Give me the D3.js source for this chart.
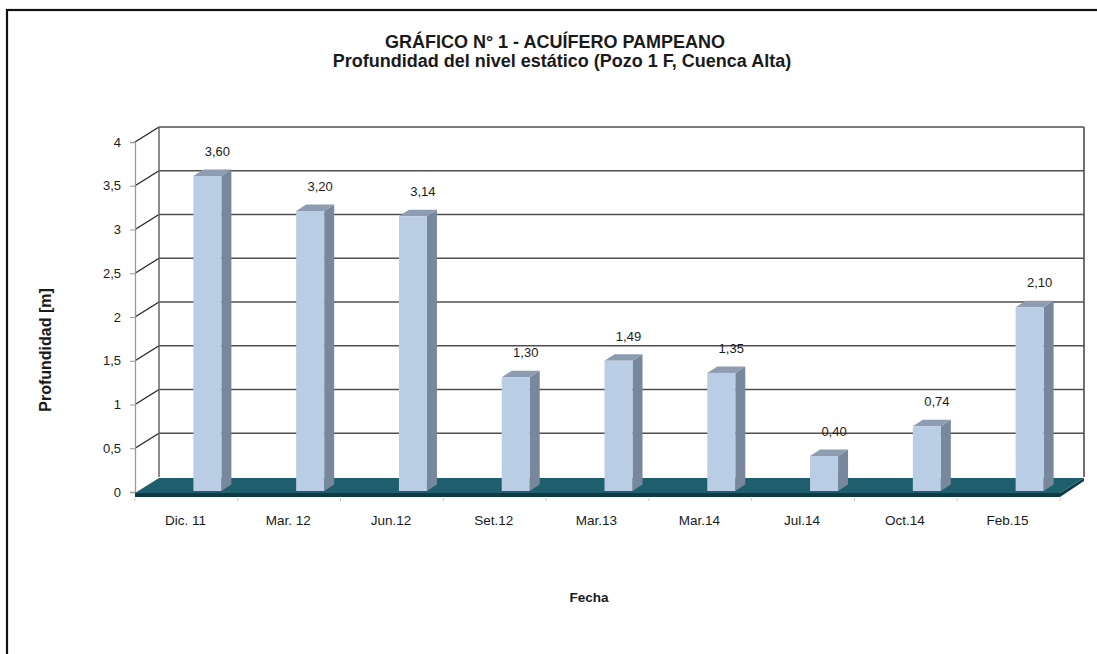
<!DOCTYPE html>
<html>
<head>
<meta charset="utf-8">
<script src="https://cdnjs.cloudflare.com/ajax/libs/d3/7.8.5/d3.min.js"></script>
<style>
  body { margin: 0; background: #fff; }
  text { font-family: Arial, "Liberation Sans", sans-serif; fill: #1a1a1a; }
</style>
</head>
<body>
<div id="chart"></div>
<script>
// data
var fechas = ["Dic. 11", "Mar. 12", "Jun.12", "Set.12", "Mar.13", "Mar.14", "Jul.14", "Oct.14", "Feb.15"];
var profundidad = [3.60, 3.20, 3.14, 1.30, 1.49, 1.35, 0.40, 0.74, 2.10];
var yTicks = [0, 0.5, 1, 1.5, 2, 2.5, 3, 3.5, 4];

var W = 1097, H = 654;

// 3d offsets (wall depth and bar depth)
var depth = {dx: 24, dy: -15};
var barDepth = {dx: 10, dy: -6.5};

var colors = {
  front: "#b9cde5",
  side: "#77879c",
  top: "#8e9cb1",
  floor: "#1f5e6d",
  floorEdge: "#0f3a44",
  grid: "#4f4f4f"
};

var fmt = function(v) { return d3.format(".2f")(v).replace(".", ","); };
var fmtTick = function(v) { return String(v).replace(".", ","); };

var svg = d3.select("#chart").append("svg")
  .attr("width", W)
  .attr("height", H);

// outer frame
svg.append("rect")
  .attr("x", 7).attr("y", 10)
  .attr("width", W).attr("height", H)
  .attr("fill", "none")
  .attr("stroke", "#111")
  .attr("stroke-width", 2.2);

var x = d3.scaleBand().domain(fechas).range([135, 1060]);
var y = d3.scaleLinear().domain([0, 4]).range([492, 142]);

// back wall gridlines
var wall = svg.append("g");
wall.selectAll(".grid")
  .data(yTicks.slice(1))
  .enter().append("line")
  .attr("x1", 135 + depth.dx).attr("x2", 1060 + depth.dx)
  .attr("y1", function(d) { return y(d) + depth.dy; })
  .attr("y2", function(d) { return y(d) + depth.dy; })
  .attr("stroke", colors.grid)
  .attr("stroke-width", 1.7);

// side wall diagonals
wall.selectAll(".diag")
  .data(yTicks.slice(1))
  .enter().append("line")
  .attr("x1", 135).attr("x2", 135 + depth.dx)
  .attr("y1", function(d) { return y(d); })
  .attr("y2", function(d) { return y(d) + depth.dy; })
  .attr("stroke", "#222")
  .attr("stroke-width", 1.3);

// wall verticals
wall.append("line")
  .attr("x1", 135 + depth.dx).attr("x2", 135 + depth.dx)
  .attr("y1", y(4) + depth.dy).attr("y2", y(0) + depth.dy)
  .attr("stroke", "#666").attr("stroke-width", 1.5);
wall.append("line")
  .attr("x1", 1060 + depth.dx).attr("x2", 1060 + depth.dx)
  .attr("y1", y(4) + depth.dy).attr("y2", y(0) + depth.dy)
  .attr("stroke", "#555").attr("stroke-width", 1.7);

// y axis (front)
var yAxis = svg.append("g")
  .attr("transform", "translate(135,0)")
  .call(d3.axisLeft(y).tickValues(yTicks).tickFormat(fmtTick).tickSize(5).tickPadding(9));
yAxis.select(".domain").attr("stroke", "#9a9a9a").attr("stroke-width", 1.3);
yAxis.selectAll(".tick line").attr("stroke", "#9a9a9a");
yAxis.selectAll("text")
  .style("font-size", "13px")
  .style("font-family", "Arial, 'Liberation Sans', sans-serif")
  .attr("fill", "#1a1a1a");

// floor
var floorPts = [
  [135, y(0) + 1], [1060, y(0) + 1],
  [1060 + depth.dx, y(0) + 1 + depth.dy], [135 + depth.dx, y(0) + 1 + depth.dy]
];
svg.append("polygon")
  .attr("points", [[135, y(0) + 1], [1060, y(0) + 1], [1060, y(0) + 5], [135, y(0) + 5]].join(" "))
  .attr("fill", colors.floorEdge);
svg.append("polygon")
  .attr("points", [[1060, y(0) + 1], [1060 + depth.dx, y(0) + 1 + depth.dy], [1060 + depth.dx, y(0) + 4 + depth.dy], [1060, y(0) + 5]].join(" "))
  .attr("fill", colors.floorEdge);
svg.append("polygon")
  .attr("points", floorPts.join(" "))
  .attr("fill", colors.floor);

// x axis labels under floor
svg.append("g")
  .attr("transform", "translate(0," + (y(0) + 5) + ")")
  .call(d3.axisBottom(x).tickSize(0).tickPadding(18))
  .call(function(g) {
    g.select(".domain").remove();
    g.selectAll("text")
      .style("font-size", "13.5px")
      .style("font-family", "Arial, 'Liberation Sans', sans-serif")
      .attr("fill", "#1a1a1a")
      .attr("dx", -1);
  });
svg.append("g").selectAll("line")
  .data(d3.range(fechas.length + 1))
  .enter().append("line")
  .attr("x1", function(i) { return 135 + i * x.step(); })
  .attr("x2", function(i) { return 135 + i * x.step(); })
  .attr("y1", y(0) + 6).attr("y2", y(0) + 9)
  .attr("stroke", "#c8c8c8");

// bars
var bw = 28;
var barLeft = function(d) { return x(d) + x.bandwidth() / 2 + 7; };
var base = y(0) - 1;

var bars = svg.append("g").selectAll(".bar")
  .data(fechas.map(function(f, i) { return {fecha: f, value: profundidad[i]}; }))
  .enter().append("g");

bars.append("polygon")
  .attr("points", function(d) {
    var L = barLeft(d.fecha), t = y(d.value) - 1;
    return [[L + bw, base], [L + bw, t], [L + bw + barDepth.dx, t + barDepth.dy], [L + bw + barDepth.dx, base + barDepth.dy]].join(" ");
  })
  .attr("fill", colors.side);

bars.append("polygon")
  .attr("points", function(d) {
    var L = barLeft(d.fecha), t = y(d.value) - 1;
    return [[L, t], [L + barDepth.dx, t + barDepth.dy], [L + bw + barDepth.dx, t + barDepth.dy], [L + bw, t]].join(" ");
  })
  .attr("fill", colors.top);

bars.append("rect")
  .attr("x", function(d) { return barLeft(d.fecha); })
  .attr("y", function(d) { return y(d.value) - 1; })
  .attr("width", bw)
  .attr("height", function(d) { return base - (y(d.value) - 1); })
  .attr("fill", colors.front);

bars.append("text")
  .attr("x", function(d) { return barLeft(d.fecha) + 24; })
  .attr("y", function(d) { return y(d.value) - 21; })
  .attr("text-anchor", "middle")
  .style("font-size", "13px")
  .text(function(d) { return fmt(d.value); });

// titles
svg.append("text")
  .attr("x", 555).attr("y", 48)
  .attr("text-anchor", "middle")
  .style("font-size", "18px").style("font-weight", "bold")
  .text("GRÁFICO N° 1 - ACUÍFERO PAMPEANO");
svg.append("text")
  .attr("x", 562).attr("y", 67)
  .attr("text-anchor", "middle")
  .style("font-size", "18px").style("font-weight", "bold")
  .text("Profundidad del nivel estático (Pozo 1 F, Cuenca Alta)");

svg.append("text")
  .attr("transform", "translate(51,350) rotate(-90)")
  .attr("text-anchor", "middle")
  .style("font-size", "16px").style("font-weight", "bold")
  .text("Profundidad [m]");

svg.append("text")
  .attr("x", 589).attr("y", 602)
  .attr("text-anchor", "middle")
  .style("font-size", "13.5px").style("font-weight", "bold")
  .text("Fecha");
</script>
</body>
</html>
